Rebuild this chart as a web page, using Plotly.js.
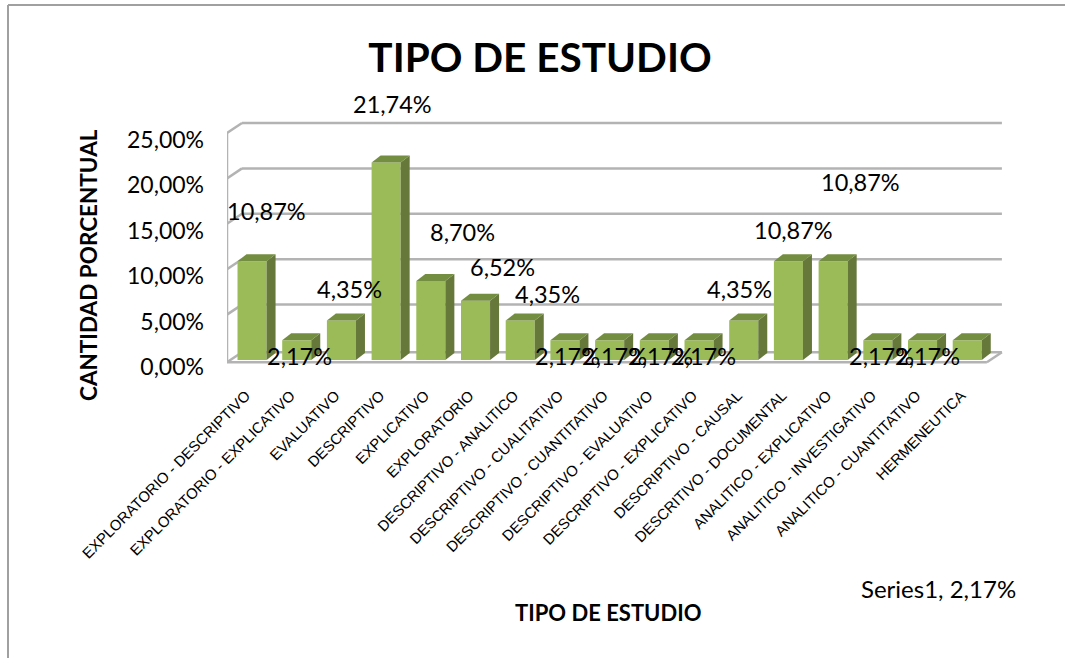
<!DOCTYPE html>
<html>
<head>
<meta charset="utf-8">
<script src="https://cdn.plot.ly/plotly-3.0.1.min.js"></script>
<style>
html, body { margin: 0; padding: 0; background: #fff; }
#chart { width: 1065px; height: 658px; }
</style>
</head>
<body>
<div id="chart"></div>
<script>
var categories = ['EXPLORATORIO - DESCRIPTIVO', 'EXPLORATORIO - EXPLICATIVO', 'EVALUATIVO', 'DESCRIPTIVO',
    'EXPLICATIVO', 'EXPLORATORIO', 'DESCRIPTIVO - ANALITICO', 'DESCRIPTIVO - CUALITATIVO',
    'DESCRIPTIVO - CUANTITATIVO', 'DESCRIPTIVO - EVALUATIVO', 'DESCRIPTIVO - EXPLICATIVO', 'DESCRIPTIVO - CAUSAL',
    'DESCRITIVO - DOCUMENTAL', 'ANALITICO - EXPLICATIVO', 'ANALITICO - INVESTIGATIVO', 'ANALITICO - CUANTITATIVO',
    'HERMENEUTICA'];
var values = [10.87, 2.17, 4.35, 21.74, 8.70, 6.52, 4.35, 2.17, 2.17, 2.17, 2.17, 4.35, 10.87, 10.87, 2.17, 2.17, 2.17];
var yTicks = [0, 5, 10, 15, 20, 25];

// the labels sit where they were dragged to in the original, not on the bars
var labelLeft = [266, 299, 349, 392, 462, 502, 547, 567, 614, 660, 703, 739, 793, 860, 881, 927, 938];
var labelTop = [211, 356, 289, 104, 232, 267, 294, 356, 356, 356, 356, 289, 230, 182, 356, 356, 588];

var font = 'Lato, "Noto Sans", sans-serif';
var W = 1065, H = 658;
var m = { l: 227, r: 55, t: 118, b: 293 };
var barWidth = 0.65;

// category and percent units for the fake 3D depth
var xStart = -0.56, pxPerCat = 44.7, pxPerPct = 9.08;
var zero = 360;
var xEnd = xStart + (W - m.l - m.r) / pxPerCat;
var yStart = -(H - m.b - zero) / pxPerPct;
var yEnd = yStart + (H - m.t - m.b) / pxPerPct;
var depthX = 9 / pxPerCat, depthY = 7 / pxPerPct;
var wallX = 15 / pxPerCat, wallY = 10 / pxPerPct;
var floorY = -2.2 / pxPerPct;
var floorEnd = xStart + 17;

function line(x0, y0, x1, y1) {
    return { type: 'line', layer: 'below', xref: 'x', yref: 'y', x0: x0, y0: y0, x1: x1, y1: y1,
        line: { color: '#b3b3b3', width: 2.5 } };
}
function poly(pts, color) {
    var path = pts.map(function(p, i) { return (i ? 'L' : 'M') + p[0] + ',' + p[1]; }).join(' ') + ' Z';
    return { type: 'path', layer: 'above', xref: 'x', yref: 'y', path: path, fillcolor: color, line: { width: 0 } };
}

var shapes = [];
// walls and floor
yTicks.forEach(function(t) {
    var y = t === 0 ? floorY : t;
    shapes.push(line(xStart, y, xStart + wallX, y + wallY));
    shapes.push(line(xStart + wallX, y + wallY, floorEnd + wallX, y + wallY));
});
shapes.push(line(xStart, floorY, xStart, 25));
shapes.push(line(xStart, floorY, floorEnd, floorY));
shapes.push(line(floorEnd, floorY, floorEnd + wallX, floorY + wallY));

// side and top of each bar
values.forEach(function(v, i) {
    var r = i + barWidth / 2, l = i - barWidth / 2;
    shapes.push(poly([[r, 0], [r + depthX, depthY], [r + depthX, v + depthY], [r, v]], '#66783a'));
    shapes.push(poly([[l, v], [l + depthX, v + depthY], [r + depthX, v + depthY], [r, v]], '#748e41'));
});

// outer frame of the chart
shapes.push({ type: 'line', layer: 'below', xref: 'paper', yref: 'paper', x0: -m.l / (W - m.l - m.r) + 8 / (W - m.l - m.r),
    x1: (W - m.l) / (W - m.l - m.r), y0: (H - m.b - 5) / (H - m.t - m.b), y1: (H - m.b - 5) / (H - m.t - m.b),
    line: { color: '#a0a0a0', width: 2 } });
shapes.push({ type: 'line', layer: 'below', xref: 'paper', yref: 'paper', x0: (8 - m.l) / (W - m.l - m.r), x1: (8 - m.l) / (W - m.l - m.r),
    y0: (H - m.b - 5) / (H - m.t - m.b), y1: -m.b / (H - m.t - m.b), line: { color: '#a0a0a0', width: 2 } });

function pct(v) {
    return v.toFixed(2).replace('.', ',') + '%';
}
function pxToPaperX(px) { return (px - m.l) / (W - m.l - m.r); }
function pxToPaperY(px) { return (H - m.b - px) / (H - m.t - m.b); }

var annotations = values.map(function(v, i) {
    var last = i === values.length - 1;
    return {
        xref: 'paper', yref: 'paper', x: pxToPaperX(labelLeft[i]), y: pxToPaperY(labelTop[i]),
        xanchor: 'center', yanchor: 'middle', showarrow: false,
        text: (last ? 'Series1, ' : '') + pct(v),
        font: { family: font, size: last ? 24 : 23.5, color: '#000' }
    };
});

var data = [{
    type: 'bar',
    x: categories.map(function(c, i) { return i; }),
    y: values,
    width: barWidth,
    marker: { color: '#9bbb59', line: { width: 0 } },
    hoverinfo: 'skip'
}];

var layout = {
    width: W,
    height: H,
    margin: m,
    paper_bgcolor: '#ffffff',
    plot_bgcolor: 'rgba(0,0,0,0)',
    showlegend: false,
    title: { text: 'TIPO DE ESTUDIO', font: { family: font, size: 40.5, color: '#000', weight: 'bold' },
        x: 540 / W, xanchor: 'center', y: 1 - 58 / H, yanchor: 'middle' },
    xaxis: {
        range: [xStart, xEnd],
        tickmode: 'array',
        tickvals: categories.map(function(c, i) { return i; }),
        ticktext: categories,
        tickangle: -45,
        tickfont: { family: 'Liberation Sans, Arial, sans-serif', size: 14.9, color: '#000' },
        showgrid: false,
        zeroline: false,
        showline: false,
        ticks: '',
        ticklabelstandoff: 18,
        ticklabelshift: -6,
        automargin: false,
        title: { text: '' }
    },
    yaxis: {
        range: [yStart, yEnd],
        tickmode: 'array',
        tickvals: yTicks,
        ticktext: yTicks.map(pct),
        tickfont: { family: font, size: 23, color: '#000' },
        showgrid: false,
        zeroline: false,
        showline: false,
        ticks: '',
        ticklabelstandoff: 22,
        ticklabelshift: 7,
        automargin: false,
        title: { text: '' }
    },
    shapes: shapes,
    annotations: annotations.concat([
        { xref: 'paper', yref: 'paper', x: pxToPaperX(608), y: pxToPaperY(612), xanchor: 'center', yanchor: 'middle',
          showarrow: false, text: '<b>TIPO DE ESTUDIO</b>', font: { family: font, size: 22, color: '#000' } },
        { xref: 'paper', yref: 'paper', x: pxToPaperX(88), y: pxToPaperY(265), xanchor: 'center', yanchor: 'middle',
          showarrow: false, textangle: -90, text: '<b>CANTIDAD PORCENTUAL</b>', font: { family: font, size: 22.5, color: '#000' } }
    ])
};

Plotly.newPlot('chart', data, layout, { displayModeBar: false, staticPlot: true });
</script>
</body>
</html>
